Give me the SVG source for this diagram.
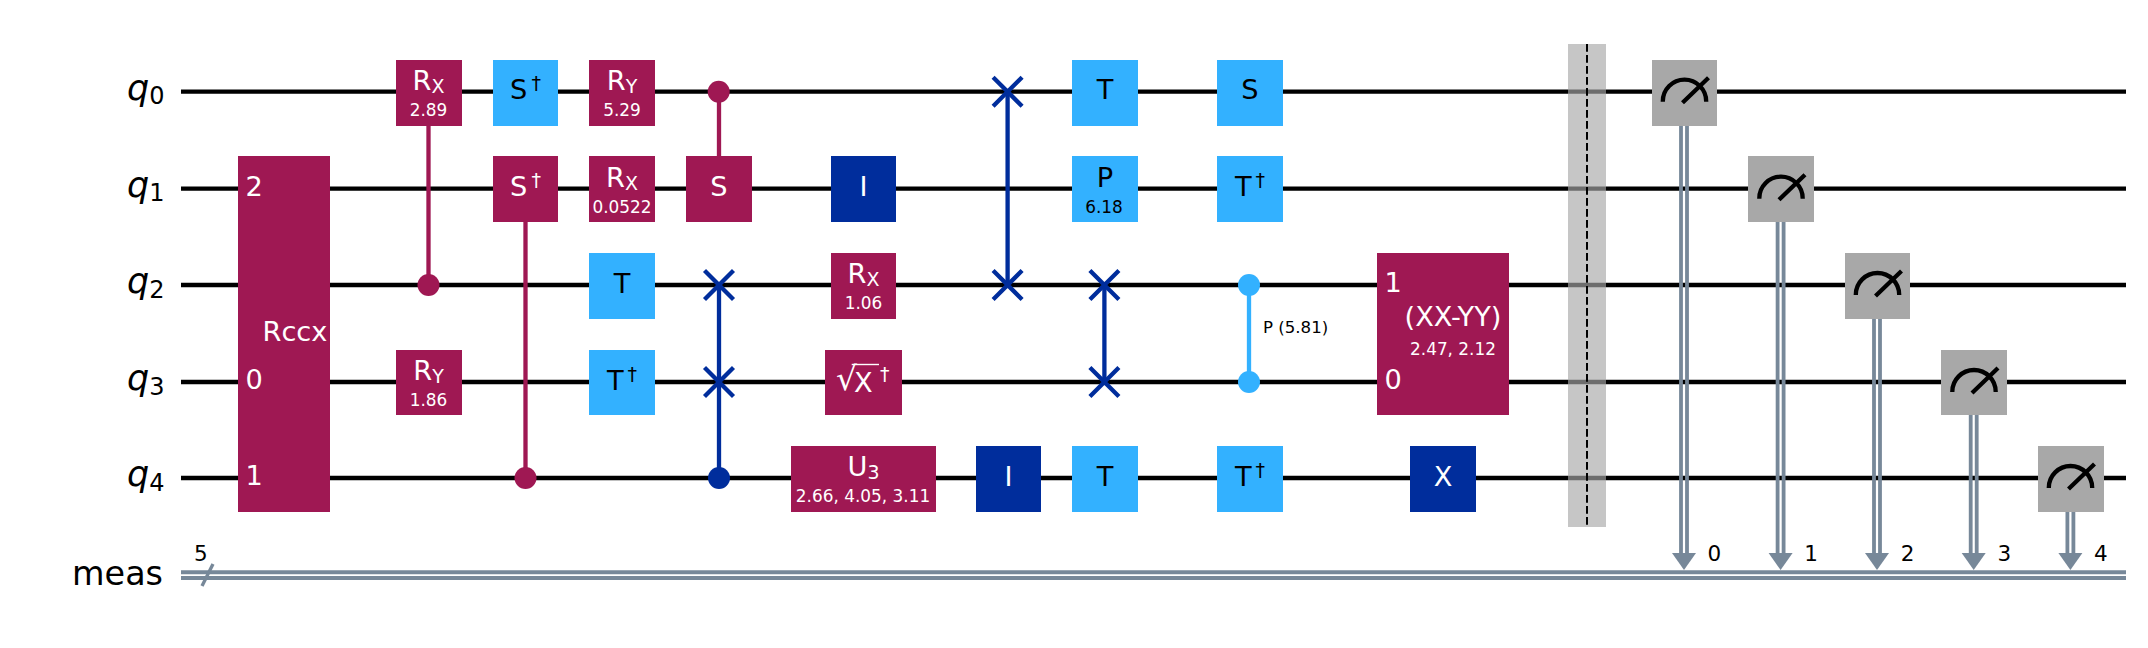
<svg xmlns="http://www.w3.org/2000/svg" width="2148" height="648" viewBox="0 0 2148 648">
<style>
text{font-family:"DejaVu Sans",sans-serif;fill:#fff}
.g{font-size:27.2px;text-anchor:middle}
.s{font-size:27.2px}
.v{font-size:16.9px;text-anchor:middle}
.k{fill:#000}
.sub{font-size:19px}
.ql{font-size:35px;fill:#000;font-style:italic}
.ql tspan{font-size:24px;font-style:normal}
.lab{font-size:33.4px;fill:#000;text-anchor:end}
.n{font-size:21.5px;fill:#000}
.p{font-size:16.6px;fill:#000}
.m{fill:#9F1853}.c{fill:#33B1FF}.b{fill:#002D9C}.gr{fill:#A8A8A8}
.w{stroke:#000;stroke-width:4.3;fill:none}
.cw{stroke:#778899;stroke-width:4;fill:none}
.cd{stroke:#778899;stroke-width:3.8;fill:none}
.ml{stroke:#9F1853;stroke-width:4.3}
.bl{stroke:#002D9C;stroke-width:4.3}
.cl{stroke:#33B1FF;stroke-width:4.3}
</style>
<defs>
<g id="meter"><path d="M-21.7 10V9.7A21.7 21.7 0 0 1 21.7 9.7V10M-2 11L24 -14" fill="none" stroke="#000" stroke-width="4.3"/></g>
<g id="sw"><path d="M-14.5 -14.5L14.5 14.5M-14.5 14.5L14.5 -14.5" fill="none" stroke="#002D9C" stroke-width="4.3"/></g>
<path id="arrow" d="M-12 553H12L0 570Z" fill="#778899"/>
</defs>
<rect width="2148" height="648" fill="#fff"/>
<g id="connectors">
<path class="w" d="M181 91.7H2126M181 188.7H2126M181 285H2126M181 382H2126M181 478H2126"/>
<path class="cw" d="M181 572.3H2126M181 578H2126"/>
<path d="M202 586L213 564" stroke="#778899" stroke-width="3.4" fill="none"/>
<path class="ml" d="M428.5 126V285M525.5 222V478M719 91.7V156"/>
<path class="bl" d="M719 285V478M1007.6 91.7V285M1104.4 285V382"/>
<path class="cl" d="M1249 285V382"/>
<path class="cd" d="M1681 126V555M1687 126V555M1777.6 222V555M1783.6 222V555M1874 319V555M1880 319V555M1970.7 415V555M1976.7 415V555M2067.4 512V555M2073.4 512V555"/>
<use href="#arrow" x="1684"/><use href="#arrow" x="1780.6"/><use href="#arrow" x="1877"/><use href="#arrow" x="1973.7"/><use href="#arrow" x="2070.4"/>
</g>
<g id="wire-labels">
<text class="ql" x="127" y="100">q<tspan dy="4.3">0</tspan></text>
<text class="ql" x="127" y="197">q<tspan dy="4.3">1</tspan></text>
<text class="ql" x="127" y="293.3">q<tspan dy="4.3">2</tspan></text>
<text class="ql" x="127" y="390.3">q<tspan dy="4.3">3</tspan></text>
<text class="ql" x="127" y="486.3">q<tspan dy="4.3">4</tspan></text>
<text class="lab" x="163" y="585">meas</text>
<text class="n" x="194" y="560.7">5</text>
</g>
<g id="rccx"><rect class="m" x="238" y="156" width="92" height="356"/>
<text class="s" x="245.5" y="195.7">2</text><text class="s" x="245.5" y="388.6">0</text><text class="s" x="245.5" y="485">1</text><text class="s" x="262.5" y="340.5">Rccx</text></g>
<g id="crx"><rect class="m" x="396" y="60" width="66" height="66"/><text class="g" x="428.5" y="90">R<tspan class="sub" dy="3.3">X</tspan></text><text class="v" x="428.5" y="116">2.89</text>
<circle class="m" cx="428.5" cy="285" r="11"/></g>
<g id="ry-q3"><rect class="m" x="396" y="350" width="66" height="65"/><text class="g" x="428.5" y="380">R<tspan class="sub" dy="3.3">Y</tspan></text><text class="v" x="428.5" y="406">1.86</text></g>
<g id="sdg-q0"><rect class="c" x="493" y="60" width="65" height="66"/><text class="g k" x="525.5" y="99">S<tspan class="sub k" dx="4" dy="-9">†</tspan></text></g>
<g id="csdg"><rect class="m" x="493" y="156" width="65" height="66"/><text class="g" x="525.5" y="196">S<tspan class="sub" dx="4" dy="-9">†</tspan></text>
<circle class="m" cx="525.5" cy="478" r="11"/></g>
<g id="ry-q0"><rect class="m" x="589" y="60" width="66" height="66"/><text class="g" x="622" y="90">R<tspan class="sub" dy="3.3">Y</tspan></text><text class="v" x="622" y="116">5.29</text></g>
<g id="rx-q1"><rect class="m" x="589" y="156" width="66" height="66"/><text class="g" x="622" y="187">R<tspan class="sub" dy="3.3">X</tspan></text><text class="v" x="622" y="213">0.0522</text></g>
<g id="t-q2"><rect class="c" x="589" y="253" width="66" height="66"/><text class="g k" x="622" y="292.5">T</text></g>
<g id="tdg-q3"><rect class="c" x="589" y="350" width="66" height="65"/><text class="g k" x="622" y="389.5">T<tspan class="sub k" dx="4" dy="-9">†</tspan></text></g>
<g id="cs"><circle class="m" cx="718.7" cy="91.7" r="11"/><rect class="m" x="686" y="156" width="66" height="66"/><text class="g" x="719" y="196">S</text></g>
<g id="cswap"><use href="#sw" x="719" y="285"/><use href="#sw" x="719" y="382"/><circle class="b" cx="719" cy="478" r="11"/></g>
<g id="i-q1"><rect class="b" x="831" y="156" width="65" height="66"/><text class="g" x="863.5" y="196">I</text></g>
<g id="rx-q2"><rect class="m" x="831" y="253" width="65" height="66"/><text class="g" x="863.5" y="283">R<tspan class="sub" dy="3.3">X</tspan></text><text class="v" x="863.5" y="309.3">1.06</text></g>
<g id="sxdg"><rect class="m" x="825" y="350" width="77" height="65"/><text class="s" x="836" y="389.5" style="font-size:33px">√</text><path d="M851.7 364.5H879" stroke="#fff" stroke-width="1.4"/><text class="s" x="854" y="391.7">X</text><text class="sub" x="880" y="381">†</text></g>
<g id="u3"><rect class="m" x="791" y="446" width="145" height="66"/><text class="g" x="863.5" y="476">U<tspan class="sub" dy="3.3">3</tspan></text><text class="v" x="863" y="502.3">2.66, 4.05, 3.11</text></g>
<g id="i-q4"><rect class="b" x="976" y="446" width="65" height="66"/><text class="g" x="1008.6" y="486">I</text></g>
<g id="swap-q0-q2"><use href="#sw" x="1007.6" y="91.7"/><use href="#sw" x="1007.6" y="285"/></g>
<g id="t-q0"><rect class="c" x="1072" y="60" width="66" height="66"/><text class="g k" x="1105" y="99">T</text></g>
<g id="p-q1"><rect class="c" x="1072" y="156" width="66" height="66"/><text class="g k" x="1105" y="186.5">P</text><text class="v k" x="1104" y="213">6.18</text></g>
<g id="swap-q2-q3"><use href="#sw" x="1104.4" y="285"/><use href="#sw" x="1104.4" y="382"/></g>
<g id="t-q4"><rect class="c" x="1072" y="446" width="66" height="66"/><text class="g k" x="1105" y="486">T</text></g>
<g id="s-q0"><rect class="c" x="1217" y="60" width="66" height="66"/><text class="g k" x="1250" y="99">S</text></g>
<g id="tdg-q1"><rect class="c" x="1217" y="156" width="66" height="66"/><text class="g k" x="1250" y="196">T<tspan class="sub k" dx="4" dy="-9">†</tspan></text></g>
<g id="cp"><circle class="c" cx="1249" cy="285" r="11"/><circle class="c" cx="1249" cy="382" r="11"/><text class="p" x="1263" y="333">P (5.81)</text></g>
<g id="tdg-q4"><rect class="c" x="1217" y="446" width="66" height="66"/><text class="g k" x="1250" y="486">T<tspan class="sub k" dx="4" dy="-9">†</tspan></text></g>
<g id="xxyy"><rect class="m" x="1377" y="253" width="132" height="162"/><text class="s" x="1384.5" y="292">1</text><text class="s" x="1384.5" y="388.5">0</text><text class="g" x="1453" y="325.5">(XX-YY)</text><text class="v" x="1453" y="355">2.47, 2.12</text></g>
<g id="x-q4"><rect class="b" x="1410" y="446" width="66" height="66"/><text class="g" x="1443" y="486">X</text></g>
<g id="barrier"><rect x="1568" y="44" width="38" height="483" fill="#A8A8A8" fill-opacity="0.65"/><path d="M1587 44V527" stroke="#000" stroke-width="2" stroke-dasharray="7.8 3.2" fill="none"/></g>
<g id="m0"><rect class="gr" x="1652" y="60" width="65" height="66"/><use href="#meter" x="1684.5" y="91.7"/><text class="n" x="1707.5" y="561">0</text></g>
<g id="m1"><rect class="gr" x="1748" y="156" width="66" height="66"/><use href="#meter" x="1781" y="188.7"/><text class="n" x="1804.2" y="561">1</text></g>
<g id="m2"><rect class="gr" x="1845" y="253" width="65" height="66"/><use href="#meter" x="1877.5" y="285"/><text class="n" x="1900.8" y="561">2</text></g>
<g id="m3"><rect class="gr" x="1941" y="350" width="66" height="65"/><use href="#meter" x="1974" y="382"/><text class="n" x="1997.4" y="561">3</text></g>
<g id="m4"><rect class="gr" x="2038" y="446" width="66" height="66"/><use href="#meter" x="2070.5" y="478"/><text class="n" x="2094" y="561">4</text></g>
</svg>
